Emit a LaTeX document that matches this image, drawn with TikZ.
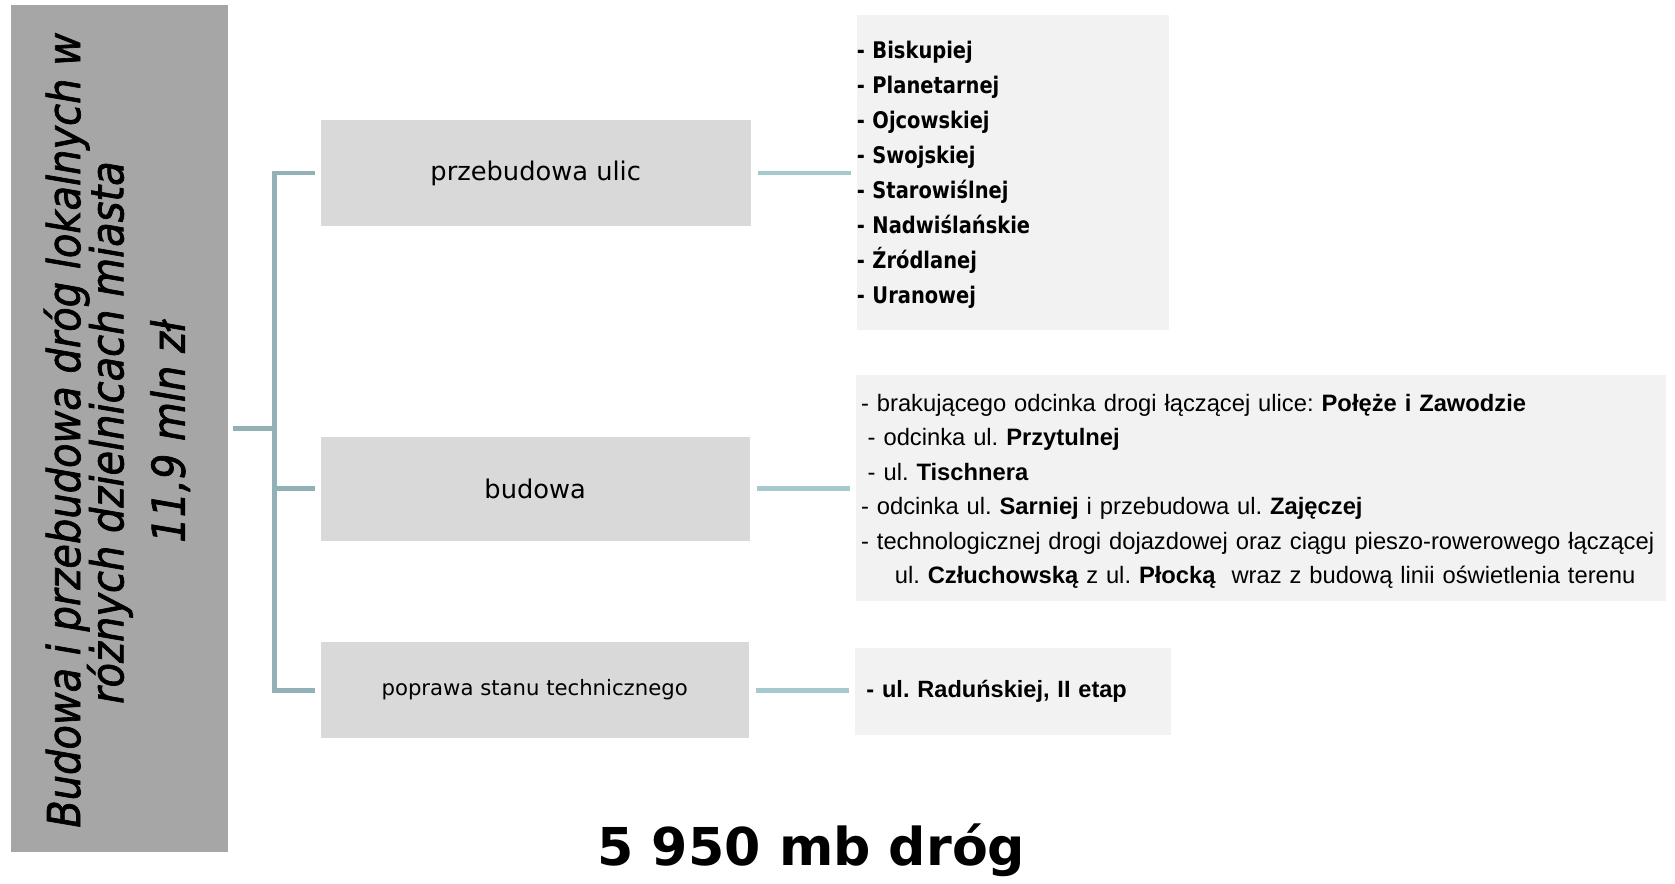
\documentclass[tikz,border=0pt]{standalone}
\usepackage{fontspec}
\setmainfont{DejaVu Sans}
\newfontfamily\titlefamily[FakeStretch=0.88, FakeBold=1.5]{DejaVu Sans}
\newfontfamily\listfamily[FakeStretch=0.85]{DejaVu Sans}
\newfontfamily\arialfamily{Liberation Sans}
\usepackage{tikz}
\frenchspacing

\definecolor{topicgray}{RGB}{166,166,166}
\definecolor{labelgray}{RGB}{217,217,217}
\definecolor{listgray}{RGB}{242,242,242}
\definecolor{brackteal}{RGB}{146,177,182}
\definecolor{linkteal}{RGB}{166,201,205}

\begin{document}
\begin{tikzpicture}[x=0.02cm, y=-0.02cm,
    topicbox/.style={fill=topicgray, minimum width=4.06cm, minimum height=15.86cm, inner sep=0},
    titleline/.style={rotate=90, anchor=base, inner sep=0, font={\titlefamily\itshape\fontsize{24.2}{29}\selectfont}},
    labelbox/.style={fill=labelgray, inner sep=0, font={\fontsize{13.7}{16}\selectfont}},
    listbox/.style={fill=listgray, align=left, inner ysep=0},
    brack/.style={brackteal, line width=2.6pt},
    link/.style={linkteal, line width=2.6pt, shorten <=0.12cm, shorten >=0.1cm}]

                \useasboundingbox (0,0) rectangle (1568,827);

                % Nodes
                \node at (111.5,401.5) (topic) [topicbox] {};
                \node at (75,403) (title1) [titleline] {Budowa i przebudowa dróg lokalnych w};
                \node at (115.5,405) (title2) [titleline] {różnych dzielnicach miasta};
                \node at (173,404) (title3) [titleline] {11,9 mln zł};

                \node at (501.5,162) (ulice) [labelbox, minimum width=8.06cm, minimum height=2cm] {przebudowa ulic};
                \node at (501,457.5) (budowa) [labelbox, minimum width=8.04cm, minimum height=1.94cm] {budowa};
                \node at (500.5,646) (poprawa) [labelbox, minimum width=8.02cm, minimum height=1.8cm, font={\fontsize{11.3}{14}\selectfont}] {poprawa stanu technicznego};

                \node at (948,161.5) (ulicelist) [listbox, text width=5.84cm, inner xsep=0, minimum height=5.9cm, font={\listfamily\bfseries\fontsize{12.2}{18.6}\selectfont}]
                    {\rule{0pt}{11.6pt}- Biskupiej\\- Planetarnej\\- Ojcowskiej\\- Swojskiej\\- Starowiślnej\\- Nadwiślańskie\\- Źródlanej\\- Uranowej};
                \node at (1180.5,457) (budowalist) [listbox, text width=14.98cm, inner xsep=0.1cm, minimum height=4.24cm, font={\arialfamily\fontsize{12.65}{18.4}\selectfont}]
                    {\rule{0pt}{12.7pt}\mbox{- brakującego odcinka drogi łączącej ulice: \textbf{Połęże i Zawodzie}}\\
                     \hspace*{0.28em}- odcinka ul. \textbf{Przytulnej}\\
                     \hspace*{0.28em}- ul. \textbf{Tischnera}\\
                     - odcinka ul. \textbf{Sarniej} i przebudowa ul. \textbf{Zajęczej}\\
                     \mbox{- technologicznej drogi dojazdowej oraz ciągu pieszo-rowerowego łączącej}\\
                     \hspace*{1.42em}\mbox{ul. \textbf{Człuchowską} z ul. \textbf{Płocką}\ \ wraz z budową linii oświetlenia terenu}};
                \node at (948,647.5) (poprawalist) [listbox, text width=5.48cm, inner xsep=0.22cm, minimum height=1.62cm, font={\arialfamily\bfseries\fontsize{12.55}{16}\selectfont}]
                    {- ul. Raduńskiej, II etap};

                \node at (759.5,810) (total) [anchor=base, font={\bfseries\fontsize{27.8}{33}\selectfont}] {5 950 mb dróg};

                % Lines
                \coordinate (bus) at (257,401.5);
                \draw[brack] ([xshift=0.1cm]topic.east) -- (bus);
                \draw[brack] ([xshift=-0.1cm]ulice.west) -| (bus |- poprawa.west) -- ([xshift=-0.1cm]poprawa.west);
                \draw[brack] (bus |- budowa.west) -- ([xshift=-0.1cm]budowa.west);

                \draw[link] (ulice.east) -- (ulice.east -| ulicelist.west);
                \draw[link] (budowa.east) -- (budowa.east -| budowalist.west);
                \draw[link] (poprawa.east) -- (poprawa.east -| poprawalist.west);

            \end{tikzpicture}
\end{document}
